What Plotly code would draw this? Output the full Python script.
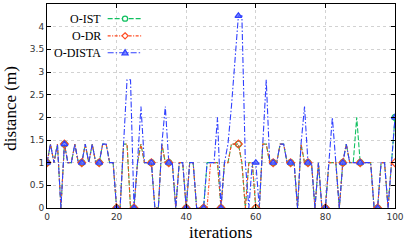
import plotly.graph_objects as go

iterations = list(range(101))

o_ist = [1, 1.41, 1, 1.41, 0, 1.41, 1, 1, 1.41, 1,
         1, 1.41, 1, 1.41, 1, 1, 1.41, 1.41, 1, 1,
         0, 0, 1.41, 1.41, 0, 0, 1, 1.41, 1, 1,
         1, 0, 0, 1.41, 1, 1, 1, 0, 1, 1,
         0, 1, 1, 0, 0, 0, 1, 1, 1, 1,
         0, 1, 1, 1.41, 1.41, 1.41, 1, 0, 1, 1,
         0, 0, 1.41, 1.41, 1, 1, 1, 1.41, 1.41, 1,
         1, 1, 0, 1.41, 1, 1, 1, 0, 1, 0,
         0, 1, 1, 1, 0, 1, 1.41, 1, 1, 2,
         1, 1, 1, 1, 0, 0, 1, 1, 0, 1, 2]

o_dr = [1, 1.41, 1, 1.41, 0, 1.41, 1, 1, 1.41, 1,
        1, 1.41, 1, 1.41, 1, 1, 1.41, 1.41, 1, 1,
        0, 0, 1.41, 1.41, 0, 0, 1, 1.41, 1, 1,
        1, 0, 0, 1.41, 1, 1, 1, 0, 1, 1,
        0, 1, 1, 0, 0, 0, 0, 1, 1, 1,
        0, 1, 1, 1.41, 1.41, 1.41, 1, 0, 1, 1,
        0, 0, 1.41, 1.41, 1, 1, 1, 1.41, 1.41, 1,
        1, 1, 0, 1.41, 1, 1, 1, 0, 1, 0,
        0, 1, 1, 1, 0, 1, 1.41, 1, 1, 1,
        1, 1, 1, 1, 0, 0, 1, 1, 0, 1, 1]

o_dista = [1, 1.41, 1, 1.41, 0, 1.41, 1, 1, 1.41, 1,
           1, 1.41, 1, 1.41, 1, 1, 1.41, 1.41, 1, 1,
           0, 0, 1.41, 2.83, 2.83, 0, 1, 2.24, 1, 1,
           1, 0, 0, 1.41, 2.24, 1, 1, 0, 1, 1,
           0, 1, 1, 0, 0, 0, 1, 1, 1, 2,
           0, 1, 1.41, 2.24, 3.16, 4.24, 4.24, 1, 0, 1,
           1, 0, 1.41, 2.83, 1, 1, 1, 1.41, 1.41, 1,
           1, 1, 0, 1.41, 2.24, 1, 1, 0, 1, 0,
           0, 1, 2, 1, 0, 1, 1.41, 1, 1, 1,
           1, 1, 1, 1, 0, 0, 1, 1, 0, 1, 2]

series_names = ["O-IST", "O-DR", "O-DISTA"]
x_ticks = [0, 20, 40, 60, 80, 100]
y_ticks = [0, 0.5, 1, 1.5, 2, 2.5, 3, 3.5, 4, 4.5]
y_tick_labels = ["0", "0.5", "1", "1.5", "2", "2.5", "3", "3.5", "4", "4.5"]

GREEN = "#10c060"
RED = "#ff4a20"
BLUE = "#3040ff"

styles = [
    dict(color=GREEN, dash="5px,2px", symbol="circle-open", mfill=GREEN),
    dict(color=RED, dash="3px,1.5px,1px,1.5px", symbol="diamond-open", mfill=RED),
    dict(color=BLUE, dash="6px,2px,1.5px,2px", symbol="triangle-up", mfill="rgba(90,110,255,0.75)"),
]

fig = go.Figure()
for name, vals, st in zip(series_names, [o_ist, o_dr, o_dista], styles):
    fig.add_trace(go.Scatter(
        x=iterations, y=vals, mode="lines", name=name,
        line=dict(color=st["color"], width=1.1, dash=st["dash"]),
        showlegend=False, hoverinfo="skip"))
for name, vals, st in zip(series_names, [o_ist, o_dr, o_dista], styles):
    fig.add_trace(go.Scatter(
        x=iterations[::5], y=vals[::5], mode="markers", name=name,
        marker=dict(symbol=st["symbol"], size=6, color=st["mfill"],
                    line=dict(color=st["color"], width=1.2)),
        showlegend=False, hoverinfo="skip"))

W, H = 407, 242
ML, MR, MT, MB = 47, 10, 3, 34
PW, PH = W - ML - MR, H - MT - MB

def px2x(px):
    return (px - ML) / PW

def px2y(py):
    return (H - MB - py) / PH

shapes = []
annotations = []
legend_rows = [17.7, 35, 52]
for name, st, ypx in zip(series_names, styles, legend_rows):
    y = px2y(ypx)
    shapes.append(dict(type="line", xref="paper", yref="paper",
                       x0=px2x(108), x1=px2x(142), y0=y, y1=y,
                       line=dict(color=st["color"], width=1.1, dash=st["dash"])))
    cx, r = 125.5, 2.6
    if st["symbol"].startswith("circle"):
        shapes.append(dict(type="circle", xref="paper", yref="paper",
                           x0=px2x(cx - r), x1=px2x(cx + r), y0=px2y(ypx + r), y1=px2y(ypx - r),
                           fillcolor="white", line=dict(color=st["color"], width=1.2)))
    elif st["symbol"].startswith("diamond"):
        pts = [(cx, ypx - r - 0.5), (cx + r + 0.5, ypx), (cx, ypx + r + 0.5), (cx - r - 0.5, ypx)]
        path = "M " + " L ".join(f"{px2x(a)},{px2y(b)}" for a, b in pts) + " Z"
        shapes.append(dict(type="path", xref="paper", yref="paper", path=path,
                           fillcolor="white", line=dict(color=st["color"], width=1.2)))
    else:
        pts = [(cx, ypx - r - 0.5), (cx + r + 0.5, ypx + r - 0.5), (cx - r - 0.5, ypx + r - 0.5)]
        path = "M " + " L ".join(f"{px2x(a)},{px2y(b)}" for a, b in pts) + " Z"
        shapes.append(dict(type="path", xref="paper", yref="paper", path=path,
                           fillcolor=st["mfill"], line=dict(color=st["color"], width=1.2)))
    annotations.append(dict(text=name, xref="paper", yref="paper", x=px2x(103), y=y,
                            xanchor="right", yanchor="middle", showarrow=False,
                            font=dict(family="Liberation Serif", size=12, color="black")))

annotations.append(dict(text="iterations", xref="paper", yref="paper",
                        x=px2x(221), y=px2y(232.5), xanchor="center", yanchor="middle",
                        showarrow=False, font=dict(family="Liberation Serif", size=17, color="black")))
annotations.append(dict(text="distance (m)", xref="paper", yref="paper",
                        x=px2x(10), y=px2y(108), xanchor="center", yanchor="middle", textangle=-90,
                        showarrow=False, font=dict(family="Liberation Serif", size=17, color="black")))

axis_common = dict(showline=True, linecolor="black", linewidth=1, mirror="ticks",
                   ticks="inside", ticklen=4, tickcolor="black", tickwidth=1,
                   showgrid=True, gridcolor="#d2d2d2", griddash="dot", gridwidth=1,
                   zeroline=False,
                   tickfont=dict(family="DejaVu Sans", size=9, color="#333333"))

fig.update_layout(
    width=W, height=H,
    margin=dict(l=ML, r=MR, t=MT, b=MB),
    paper_bgcolor="white", plot_bgcolor="white",
    xaxis=dict(range=[0, 100], tickvals=x_ticks, **axis_common),
    yaxis=dict(range=[0, 4.5], tickvals=y_ticks, ticktext=y_tick_labels, **axis_common),
    shapes=shapes, annotations=annotations, showlegend=False,
)

fig.write_html("out.html", config={"displayModeBar": False},
               post_script="document.body.style.margin='0';document.body.style.padding='0';")
